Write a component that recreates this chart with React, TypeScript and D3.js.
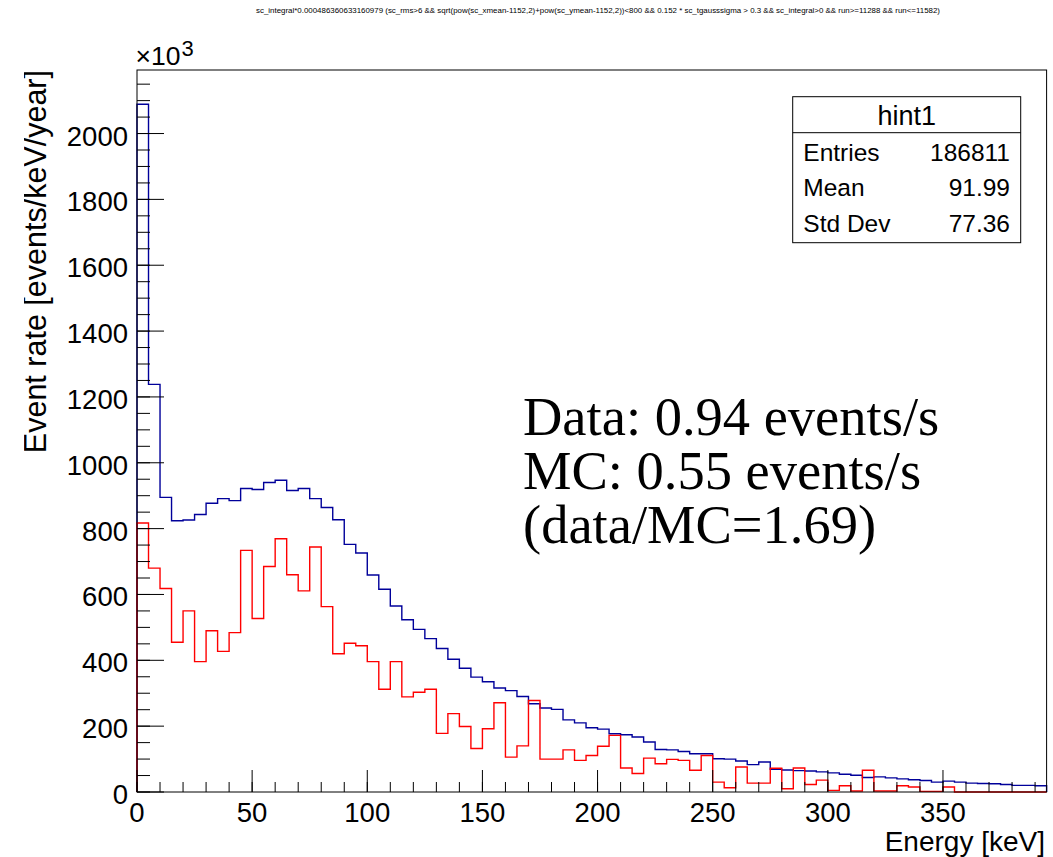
import React from "react";
import * as d3 from "d3";

// ---- data (5 keV bins from 0 to 395 keV) ----
const binWidth = 5;
const binLow: number[] = d3.range(0, 395, binWidth);

// blue: MC spectrum (events/keV/year, x10^3)
const blueValues: number[] = [
  2089, 1238, 895, 824, 826, 843, 877, 891, 885, 922,
  919, 940, 947, 916, 922, 891, 864, 827, 752, 726,
  659, 616, 565, 523, 494, 466, 436, 403, 376, 349,
  335, 316, 308, 290, 268, 255, 251, 219, 210, 195,
  191, 177, 174, 167, 152, 129, 128, 123, 116, 116,
  101, 100, 94, 83, 91, 69, 67, 65, 64, 61,
  58, 54, 51, 44, 46, 43, 40, 37, 35, 30,
  33, 30, 27, 26, 25, 23, 20, 20, 19,
];

// red: data spectrum
const redValues: number[] = [
  817, 680, 618, 455, 550, 396, 490, 427, 484, 734,
  527, 685, 769, 660, 611, 744, 563, 420, 452, 444,
  396, 312, 396, 289, 303, 312, 178, 238, 199, 132,
  192, 271, 106, 140, 278, 100, 100, 128, 96, 111,
  139, 172, 73, 56, 103, 86, 99, 96, 66, 111,
  30, 13, 76, 27, 27, 72, 10, 73, 23, 36,
  5, 19, 3, 66, 3, 3, 19, 15, 2, 2,
  15, 0, 0, 0, 0, 0, 0, 0, 0,
];

const xMajorTicks: number[] = [0, 50, 100, 150, 200, 250, 300, 350];
const xMinorTicks: number[] = d3.range(0, 395, 10);
const yMajorTicks: number[] = [0, 200, 400, 600, 800, 1000, 1200, 1400, 1600, 1800, 2000];
const yMinorTicks: number[] = d3.range(0, 2193, 50);

const statsRows: [string, string][] = [
  ["Entries", "186811"],
  ["Mean", "91.99"],
  ["Std Dev", "77.36"],
];

const noteLines: string[] = [
  "Data: 0.94 events/s",
  "MC: 0.55 events/s",
  "(data/MC=1.69)",
];

const titleText =
  "sc_integral*0.000486360633160979 (sc_rms>6 && sqrt(pow(sc_xmean-1152,2)+pow(sc_ymean-1152,2))<800 && 0.152 * sc_tgausssigma > 0.3 && sc_integral>0 && run>=11288 && run<=11582)";

const W = 1053;
const H = 857;
const frame = { left: 137, right: 1046.6, top: 70, bottom: 792 };
const xMax = 395;
const yMax = 2193;

const sans = "'Liberation Sans', Arial, Helvetica, sans-serif";
const serif = "'Liberation Serif', 'Times New Roman', serif";

function histPath(
  values: number[],
  x: d3.ScaleLinear<number, number>,
  y: d3.ScaleLinear<number, number>
): string {
  const p = d3.path();
  p.moveTo(x(binLow[0]), y(0));
  values.forEach((v, i) => {
    p.lineTo(x(binLow[i]), y(v));
    p.lineTo(x(binLow[i] + binWidth), y(v));
  });
  p.lineTo(x(binLow[values.length - 1] + binWidth), y(0));
  return p.toString();
}

export default function App() {
  const x = d3.scaleLinear().domain([0, xMax]).range([frame.left, frame.right]);
  const y = d3.scaleLinear().domain([0, yMax]).range([frame.bottom, frame.top]);

  const box = { x0: 792.7, x1: 1020.7, y0: 96.7, y1: 242.7, sep: 132.7 };

  return (
    <div style={{ position: "absolute", left: 0, top: 0 }}>
      <svg width={W} height={H} xmlns="http://www.w3.org/2000/svg" style={{ display: "block", background: "#fff" }}>
        <defs>
          <clipPath id="ytitleclip">
            <rect x={24} y={0} width={200} height={H} />
          </clipPath>
        </defs>
        <rect x={0} y={0} width={W} height={H} fill="#fff" />

        {/* title */}
        <text
          x={598}
          y={13}
          fontFamily={sans}
          fontSize={7}
          textAnchor="middle"
          textLength={684}
          lengthAdjust="spacingAndGlyphs"
          fill="#000"
        >
          {titleText}
        </text>

        {/* histograms */}
        <path d={histPath(blueValues, x, y)} fill="none" stroke="#00009a" strokeWidth={1.4} />
        <path d={histPath(redValues, x, y)} fill="none" stroke="#ff0000" strokeWidth={1.4} />

        {/* frame */}
        <rect
          x={frame.left}
          y={frame.top}
          width={frame.right - frame.left}
          height={frame.bottom - frame.top}
          fill="none"
          stroke="#000"
          strokeWidth={1}
        />

        {/* x ticks */}
        {xMinorTicks.map((t) => (
          <line key={"xm" + t} x1={x(t)} x2={x(t)} y1={frame.bottom} y2={frame.bottom - 10} stroke="#000" strokeWidth={1} />
        ))}
        {xMajorTicks.map((t) => (
          <line key={"xM" + t} x1={x(t)} x2={x(t)} y1={frame.bottom} y2={frame.bottom - 22} stroke="#000" strokeWidth={1} />
        ))}
        {xMajorTicks.map((t) => (
          <text key={"xl" + t} x={x(t)} y={822.3} fontFamily={sans} fontSize={27.5} textAnchor="middle" fill="#000">
            {t}
          </text>
        ))}

        {/* y ticks */}
        {yMinorTicks.map((t) => (
          <line key={"ym" + t} x1={frame.left} x2={frame.left + 13} y1={y(t)} y2={y(t)} stroke="#000" strokeWidth={1} />
        ))}
        {yMajorTicks.map((t) => (
          <line key={"yM" + t} x1={frame.left} x2={frame.left + 27} y1={y(t)} y2={y(t)} stroke="#000" strokeWidth={1} />
        ))}
        {yMajorTicks.map((t) => (
          <text key={"yl" + t} x={128} y={y(t) + 12} fontFamily={sans} fontSize={27.5} textAnchor="end" fill="#000">
            {t}
          </text>
        ))}

        {/* exponent */}
        <text x={135.5} y={64.5} fontFamily={sans} fontSize={26.5} fill="#000">
          ×10
        </text>
        <text x={181.5} y={56} fontFamily={sans} fontSize={22} fill="#000">
          3
        </text>

        {/* axis titles */}
        <text x={1045} y={851} fontFamily={sans} fontSize={28} textAnchor="end" fill="#000">
          Energy [keV]
        </text>
        <g clipPath="url(#ytitleclip)">
          <text
            transform="translate(46,70) rotate(-90)"
            fontFamily={sans}
            fontSize={30.5}
            textAnchor="end"
            fill="#000"
          >
            Event rate [events/keV/year]
          </text>
        </g>

        {/* stats box */}
        <rect x={box.x0} y={box.y0} width={box.x1 - box.x0} height={box.y1 - box.y0} fill="#fff" stroke="#000" strokeWidth={1} />
        <line x1={box.x0} x2={box.x1} y1={box.sep} y2={box.sep} stroke="#000" strokeWidth={1} />
        <text x={(box.x0 + box.x1) / 2} y={125} fontFamily={sans} fontSize={27} textAnchor="middle" fill="#000">
          hint1
        </text>
        {statsRows.map(([k, v], i) => (
          <g key={k}>
            <text x={803.3} y={161 + i * 35.35} fontFamily={sans} fontSize={24.5} fill="#000">
              {k}
            </text>
            <text x={1010} y={161 + i * 35.35} fontFamily={sans} fontSize={24.5} textAnchor="end" fill="#000">
              {v}
            </text>
          </g>
        ))}

        {/* annotation */}
        {noteLines.map((s, i) => (
          <text key={s} x={523} y={435 + i * 54} fontFamily={serif} fontSize={54.5} fill="#000">
            {s}
          </text>
        ))}
      </svg>
    </div>
  );
}
